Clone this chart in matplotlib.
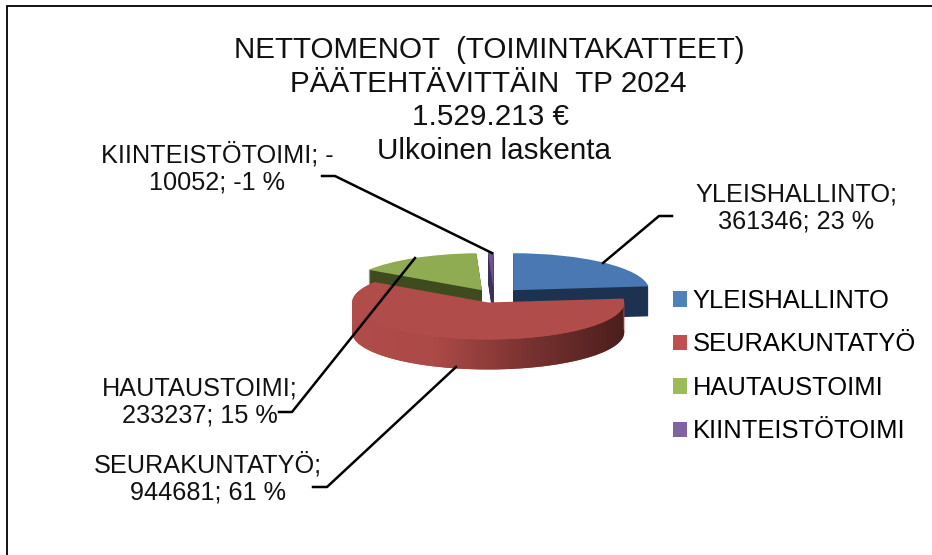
#!/usr/bin/env python3
import numpy as np
import matplotlib
matplotlib.use('Agg')
import matplotlib.pyplot as plt
from matplotlib.patches import Patch, Polygon

plt.rcParams['font.family'] = ['Liberation Sans', 'DejaVu Sans']

# Data
categories = ['YLEISHALLINTO', 'SEURAKUNTATYÖ', 'HAUTAUSTOIMI', 'KIINTEISTÖTOIMI']
values = [361346, 944681, 233237, -10052]
percents = [23, 61, 15, -1]
title_lines = ['NETTOMENOT  (TOIMINTAKATTEET)', 'PÄÄTEHTÄVITTÄIN  TP 2024',
               '1.529.213 €', 'Ulkoinen laskenta']

# Styles
top_colors = ['#4a78b2', '#b04c49', '#8fac52', '#6e5591']
side_colors = ['#1c3250', '#b04c49', '#3e4b1e', '#3f2f5c']
legend_colors = ['#4f81bd', '#c0504d', '#9bbb59', '#8064a2']
W, H = 932, 555
RX, RY = 136.0, 37.0   # pie ellipse radii, px
DEPTH = 30             # wall height, px
CX, CY = 494, 296      # pie centre, px
YK = RX / RY           # data units per px in y

fig = plt.figure(figsize=(W / 100, H / 100), dpi=100)
ax = fig.add_axes([0, 0, 1, 1])

sizes = np.abs(values)
# pie() takes explode in data units here since radius is not 1
explode = [0.21 * RX, 0.18 * RX, 0.18 * RX, 0.18 * RX]


def draw_layer(d, colors, base_z):
  wedges, _ = ax.pie(sizes, explode=explode, colors=colors, startangle=90,
                     counterclock=False, radius=RX,
                     center=(CX, (H - CY - d) * YK))
  for w, z in zip(wedges, base_z):
    w.set_zorder(z)
    w.set_linewidth(0)
  return wedges


# Walls: stacked copies going up to the top surface
for d in range(DEPTH, 0, -1):
  draw_layer(d, side_colors, [1, 4, 3, 2])
top = draw_layer(0, top_colors, [1.5, 6, 3.5, 2.5])

ax.set_aspect('auto')
ax.set_xlim(0, W)
ax.set_ylim(0, H * YK)

# Red wall gets the left to right shading
red = top[1]
th = np.radians(np.linspace(red.theta1, red.theta2, 200))
xs = red.center[0] + RX * np.cos(th)
ys = red.center[1] + RX * np.sin(th)
wall = np.r_[np.c_[xs, ys], np.c_[xs, ys - DEPTH * YK][::-1]]
clip = Polygon(wall, closed=True, transform=ax.transData, facecolor='none', edgecolor='none')
ax.add_patch(clip)
ramp = np.ones((1, 256, 3))
stops = np.array([[176, 76, 73], [172, 74, 71], [120, 50, 48], [74, 30, 28]]) / 255
pos = np.linspace(0, 1, 256)
for c in range(3):
  ramp[0, :, c] = np.interp(pos, [0, 0.3, 0.65, 1], stops[:, c])
img = ax.imshow(ramp, extent=(352, 626, (H - 380) * YK, (H - 280) * YK),
                aspect='auto', zorder=5, interpolation='bilinear')
img.set_clip_path(clip)
ax.set_xlim(0, W)
ax.set_ylim(0, H * YK)

# Overlay in pixel coordinates for frame, texts and leader lines
ov = fig.add_axes([0, 0, 1, 1], facecolor='none')
ov.set_xlim(0, W)
ov.set_ylim(H, 0)
ov.axis('off')

ov.plot([7, 7, W], [H, 6, 6], color='black', lw=1.3, solid_joinstyle='miter')

for line, x, y in zip(title_lines, [489, 488, 490, 494], [50, 84, 117, 151]):
  ov.text(x, y, line, ha='center', va='center', fontsize=21.3, color='#111111')

label_pos = [(796, 208), (208, 478), (200, 402), (217, 168)]
label_text = [f'{categories[0]};\n{values[0]}; {percents[0]} %',
              f'{categories[1]};\n{values[1]}; {percents[1]} %',
              f'{categories[2]};\n{values[2]}; {percents[2]} %',
              f'{categories[3]}; -\n{abs(values[3])}; {percents[3]} %']
for (x, y), t in zip(label_pos, label_text):
  ov.text(x, y, t, ha='center', va='center', fontsize=18.2, linespacing=1.18, color='#111111')

leaders = [([672, 659, 603], [216, 216, 263]),
           ([313, 327, 456], [487, 487, 367]),
           ([279, 292, 415], [412, 412, 258]),
           ([322, 335, 492], [176, 176, 253])]
for xs_l, ys_l in leaders:
  ov.plot(xs_l, ys_l, color='black', lw=1.8)

handles = [Patch(facecolor=c, edgecolor='none') for c in legend_colors]
ov.legend(handles, categories, loc='upper left', bbox_to_anchor=(673 / W, 1 - 289 / H),
          frameon=False, fontsize=18.4, handlelength=0.55, handleheight=0.55,
          handletextpad=0.23, labelspacing=0.76, borderpad=0, borderaxespad=0)

fig.savefig('out.png', dpi=100)
